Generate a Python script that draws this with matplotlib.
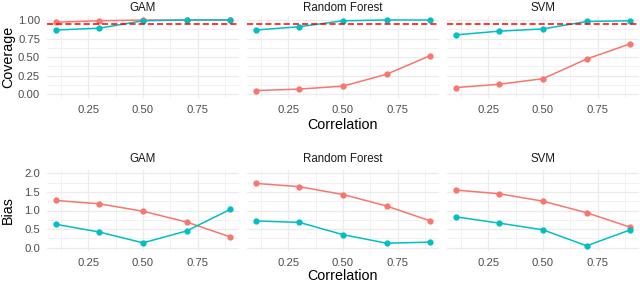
import numpy as np
import matplotlib
matplotlib.use('Agg')
import matplotlib.pyplot as plt

plt.rcParams['font.family'] = ['Liberation Sans', 'DejaVu Sans']

corr = [0.1, 0.3, 0.5, 0.7, 0.9]
models = ['GAM', 'Random Forest', 'SVM']

# coverage, red and teal series per model
cov_red = {
    'GAM': [0.97, 0.99, 1.00, 1.00, 1.00],
    'Random Forest': [0.05, 0.07, 0.11, 0.27, 0.52],
    'SVM': [0.09, 0.135, 0.21, 0.475, 0.68],
}
cov_teal = {
    'GAM': [0.865, 0.89, 0.99, 1.00, 1.00],
    'Random Forest': [0.865, 0.91, 0.99, 1.00, 1.00],
    'SVM': [0.80, 0.85, 0.88, 0.98, 0.99],
}
nominal = 0.95

# bias
bias_red = {
    'GAM': [1.27, 1.18, 0.98, 0.69, 0.29],
    'Random Forest': [1.73, 1.64, 1.43, 1.12, 0.72],
    'SVM': [1.55, 1.45, 1.25, 0.94, 0.55],
}
bias_teal = {
    'GAM': [0.63, 0.42, 0.13, 0.45, 1.03],
    'Random Forest': [0.72, 0.68, 0.35, 0.12, 0.15],
    'SVM': [0.83, 0.66, 0.48, 0.05, 0.48],
}

RED = '#F8766D'
TEAL = '#00BFC4'
W, H = 640, 282

fig = plt.figure(figsize=(W/100, H/100), dpi=100)

def make_ax(left, top, bottom, width=192):
    return fig.add_axes([left/W, 1 - bottom/H, width/W, (bottom-top)/H])

def style(ax, yticks, yminor, ylim, show_y):
    ax.set_xlim(0.06, 0.94)
    ax.set_ylim(*ylim)
    ax.set_xticks([0.25, 0.5, 0.75])
    ax.set_xticklabels(['0.25', '0.50', '0.75'])
    ax.set_xticks([0.125, 0.375, 0.625, 0.875], minor=True)
    ax.set_yticks(yticks)
    ax.set_yticks(yminor, minor=True)
    for s in ax.spines.values():
        s.set_visible(False)
    ax.grid(which='major', color='#EBEBEB', lw=0.9, zorder=0)
    ax.grid(which='minor', color='#EFEFEF', lw=0.6, zorder=0)
    ax.tick_params(which='both', length=0, labelsize=8.1, labelcolor='#4D4D4D', pad=5)
    if not show_y:
        ax.set_yticklabels([])
    ax.set_axisbelow(True)

lefts = [47, 247, 447]
for i, m in enumerate(models):
    ax = make_ax(lefts[i], 16.3, 98)
    ax.plot(corr, cov_red[m], color=RED, lw=1.1, marker='o', ms=3.5, zorder=3)
    ax.plot(corr, cov_teal[m], color=TEAL, lw=1.1, marker='o', ms=3.5, zorder=4)
    ax.axhline(nominal, color='red', lw=1.1, ls=(0, (4, 2)), zorder=5)
    style(ax, [0, 0.25, 0.5, 0.75, 1.0], [0.125, 0.375, 0.625, 0.875],
          (-0.05, 1.05), i == 0)
    if i == 0:
        ax.set_yticklabels(['0.00', '0.25', '0.50', '0.75', '1.00'])
    ax.set_title(m, fontsize=8.3, color='#1A1A1A', pad=3.5)

    ax = make_ax(lefts[i], 169.6, 251.4)
    ax.plot(corr, bias_red[m], color=RED, lw=1.1, marker='o', ms=3.5, zorder=3)
    ax.plot(corr, bias_teal[m], color=TEAL, lw=1.1, marker='o', ms=3.5, zorder=4)
    style(ax, [0, 0.5, 1.0, 1.5, 2.0], [0.25, 0.75, 1.25, 1.75],
          (-0.1, 2.1), i == 0)
    if i == 0:
        ax.set_yticklabels(['0.0', '0.5', '1.0', '1.5', '2.0'])
    ax.set_title(m, fontsize=8.3, color='#1A1A1A', pad=5.5)

fig.text(8/W, 1 - 57/H, 'Coverage', rotation=90, ha='center', va='center', fontsize=10.3)
fig.text(8/W, 1 - 210/H, 'Bias', rotation=90, ha='center', va='center', fontsize=10.3)
fig.text(343/W, 1 - 125/H, 'Correlation', ha='center', va='center', fontsize=10.3)
fig.text(343/W, 1 - 276/H, 'Correlation', ha='center', va='center', fontsize=10.3)

fig.savefig('out.png', dpi=100)
